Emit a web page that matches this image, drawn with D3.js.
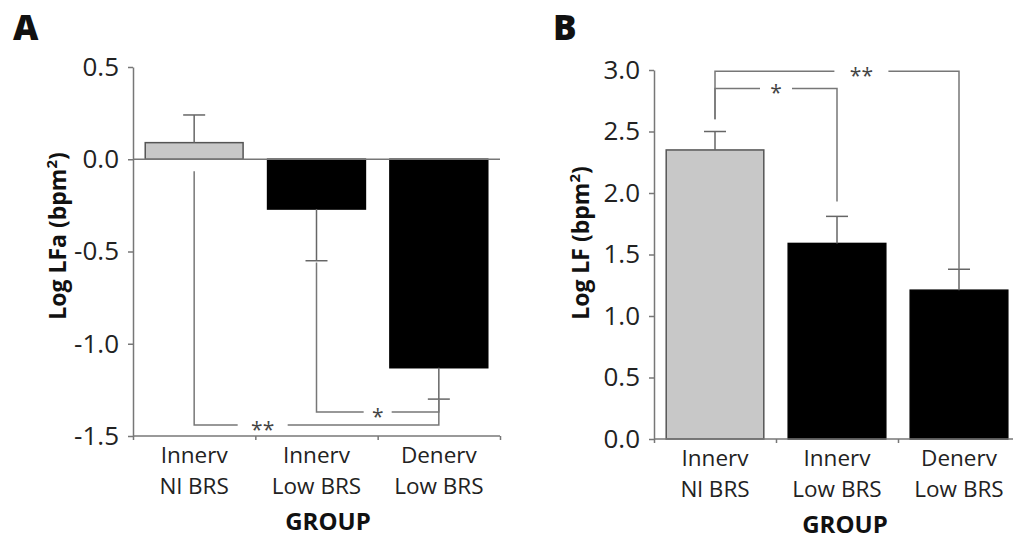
<!DOCTYPE html>
<html>
<head>
<meta charset="utf-8">
<script src="https://cdn.jsdelivr.net/npm/d3@7"></script>
<style>
  body { margin: 0; background: #fff; }
  svg { display: block; font-family: "Open Sans", sans-serif; }
</style>
</head>
<body>
<svg id="chart" width="1013" height="540"></svg>
<script>
// group labels (two lines each)
const groupLine1 = ["Innerv", "Innerv", "Denerv"];
const groupLine2 = ["Nl BRS", "Low BRS", "Low BRS"];

// panel A: Log LFa
const lfaMean = [0.09, -0.27, -1.13];
const lfaSem = [0.15, 0.28, 0.17];
const lfaTicks = [0.5, 0.0, -0.5, -1.0, -1.5];
// significance brackets: from / to bar, level, where each leg stops, label
const lfaSig = [
  { from: 0, to: 2, level: -1.44, fromEnd: -0.065, toEnd: -1.30, label: "**", at: 0.28, gap: 25 },
  { from: 1, to: 2, level: -1.37, fromEnd: -0.56, toEnd: -1.30, label: "*", at: 0.5, gap: 14 }
];

// panel B: Log LF
const lfMean = [2.35, 1.59, 1.21];
const lfSem = [0.15, 0.22, 0.17];
const lfTicks = [0.0, 0.5, 1.0, 1.5, 2.0, 2.5, 3.0];
const lfSig = [
  { from: 0, to: 2, level: 2.99, fromEnd: 2.60, toEnd: 1.38, label: "**", at: 0.6, gap: 27 },
  { from: 0, to: 1, level: 2.85, fromEnd: 2.60, toEnd: 1.93, label: "*", at: 0.5, gap: 16 }
];

const barFill = ["#c8c8c8", "#000", "#000"];
const axisColor = "#777";

const svg = d3.select("#chart");

function panel(opt) {
  const g = svg.append("g");
  const x = d3.scaleBand().domain(d3.range(3)).range([opt.left, opt.right])
    .paddingInner(0.2).paddingOuter(0.1);
  const y = d3.scaleLinear().domain(opt.domain).range([opt.bottom, opt.top]);

  // panel letter
  g.append("text").attr("x", opt.letterX).attr("y", 40)
    .attr("font-size", 35).attr("font-weight", 800).attr("fill", "#111")
    .text(opt.letter);

  // bars
  g.selectAll("rect.bar").data(opt.mean).enter().append("rect")
    .attr("x", (d, i) => x(i))
    .attr("width", x.bandwidth())
    .attr("y", d => y(Math.max(0, d)))
    .attr("height", d => Math.abs(y(d) - y(0)))
    .attr("fill", (d, i) => barFill[i])
    .attr("stroke", (d, i) => i === 0 ? "#555" : "#000")
    .attr("stroke-width", 1.5);

  // error bars
  const cx = i => x(i) + x.bandwidth() / 2;
  opt.mean.forEach((m, i) => {
    const e = m >= 0 ? m + opt.sem[i] : m - opt.sem[i];
    g.append("line").attr("x1", cx(i)).attr("x2", cx(i))
      .attr("y1", y(m)).attr("y2", y(e))
      .attr("stroke", "#666").attr("stroke-width", 1.5);
    g.append("line").attr("x1", cx(i) - 11).attr("x2", cx(i) + 11)
      .attr("y1", y(e)).attr("y2", y(e))
      .attr("stroke", "#666").attr("stroke-width", 1.5);
  });

  // significance brackets
  opt.sig.forEach(s => {
    const x1 = cx(s.from), x2 = cx(s.to), ly = y(s.level);
    const lx = x1 + (x2 - x1) * s.at;
    const path = d3.path();
    path.moveTo(x1, y(s.fromEnd)); path.lineTo(x1, ly); path.lineTo(lx - s.gap, ly);
    path.moveTo(lx + s.gap, ly); path.lineTo(x2, ly); path.lineTo(x2, y(s.toEnd));
    g.append("path").attr("d", path.toString()).attr("fill", "none")
      .attr("stroke", axisColor).attr("stroke-width", 1.5);
    g.append("text").attr("x", lx).attr("y", ly + 12)
      .attr("text-anchor", "middle").attr("font-size", 21).attr("fill", "#444")
      .text(s.label);
  });

  // zero line (panel A)
  if (opt.domain[0] < 0) {
    g.append("line").attr("x1", opt.left).attr("x2", opt.right)
      .attr("y1", y(0)).attr("y2", y(0))
      .attr("stroke", axisColor).attr("stroke-width", 1.5);
  }

  // y axis
  const ya = g.append("g").attr("transform", `translate(${opt.left},0)`)
    .call(d3.axisLeft(y).tickValues(opt.ticks).tickFormat(d3.format(".1f"))
      .tickSize(5).tickPadding(9).tickSizeOuter(0));
  ya.select(".domain").attr("stroke", axisColor).attr("stroke-width", 1.5);
  ya.selectAll(".tick line").attr("stroke", axisColor).attr("stroke-width", 1.5);
  ya.selectAll(".tick text").attr("font-size", 26).attr("fill", "#222")
    .attr("font-family", "Open Sans").text(d => d3.format(".1f")(d).replace("−", "-"));

  // x axis with ticks at band boundaries
  const step = x.step();
  const xb = d3.scaleLinear().domain([0, 3]).range([opt.left, opt.left + 3 * step]);
  const xa = g.append("g").attr("transform", `translate(0,${opt.bottom})`)
    .call(d3.axisBottom(xb).tickValues([0, 1, 2, 3]).tickSize(4).tickFormat("").tickSizeOuter(0));
  xa.select(".domain").attr("stroke", axisColor).attr("stroke-width", 1.5)
    .attr("d", `M${opt.left},0H${opt.right}`);
  xa.selectAll(".tick line").attr("stroke", axisColor).attr("stroke-width", 1.5);

  // category labels
  d3.range(3).forEach(i => {
    const t = g.append("text").attr("x", cx(i)).attr("text-anchor", "middle")
      .attr("font-size", 22.5).attr("fill", "#222");
    t.append("tspan").attr("x", cx(i)).attr("y", opt.bottom + 27).text(groupLine1[i]);
    t.append("tspan").attr("x", cx(i)).attr("y", opt.bottom + 58).text(groupLine2[i]);
  });

  // axis titles
  g.append("text").attr("x", opt.groupX).attr("y", opt.bottom + 94)
    .attr("text-anchor", "middle").attr("font-size", 24).attr("font-weight", 700)
    .attr("fill", "#111").text("GROUP");

  const yt = g.append("text")
    .attr("transform", `translate(${opt.titleX},${opt.titleY}) rotate(-90)`)
    .attr("text-anchor", "middle").attr("font-size", 23).attr("font-weight", 700)
    .attr("fill", "#111");
  yt.append("tspan").text(opt.title);
  yt.append("tspan").attr("font-size", 15).attr("dy", -9).text("2");
  yt.append("tspan").attr("dy", 9).text(")");
}

panel({
  letter: "A", letterX: 13,
  left: 133, right: 500, top: 67, bottom: 436,
  domain: [-1.5, 0.5], ticks: lfaTicks,
  mean: lfaMean, sem: lfaSem, sig: lfaSig,
  title: "Log LFa (bpm", titleX: 66, titleY: 236, groupX: 328
});

panel({
  letter: "B", letterX: 553,
  left: 654, right: 1020, top: 70, bottom: 439,
  domain: [0, 3], ticks: lfTicks,
  mean: lfMean, sem: lfSem, sig: lfSig,
  title: "Log LF (bpm", titleX: 589, titleY: 243, groupX: 845
});
</script>
</body>
</html>
